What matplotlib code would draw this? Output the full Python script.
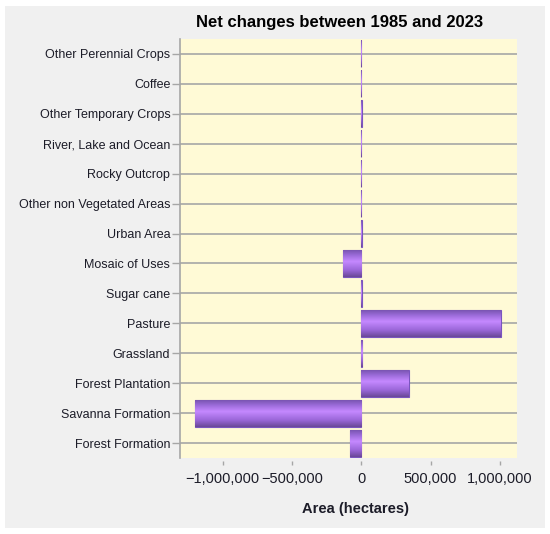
import numpy as np
import matplotlib
matplotlib.use("Agg")
import matplotlib.pyplot as plt
from matplotlib.patches import Rectangle
from matplotlib.colors import LinearSegmentedColormap
from matplotlib.ticker import FuncFormatter

plt.rcParams["font.family"] = ["Liberation Sans", "DejaVu Sans"]

# land-use classes, bottom to top as drawn
categories = [
    "Forest Formation",
    "Savanna Formation",
    "Forest Plantation",
    "Grassland",
    "Pasture",
    "Sugar cane",
    "Mosaic of Uses",
    "Urban Area",
    "Other non Vegetated Areas",
    "Rocky Outcrop",
    "River, Lake and Ocean",
    "Other Temporary Crops",
    "Coffee",
    "Other Perennial Crops",
]
# net change in hectares
net_change = [
    -84000,
    -1200000,
    344000,
    8000,
    1005000,
    3000,
    -134000,
    6000,
    500,
    500,
    1000,
    7000,
    -2000,
    1000,
]
x_ticks = [-1000000, -500000, 0, 500000, 1000000]

text_col = "#1c1c28"
grid_col = "#a6a6a6"

fig = plt.figure(figsize=(5.5, 5.34), dpi=100, facecolor="white")
fig.add_artist(Rectangle((5 / 550, 6 / 534), 540 / 550, 522 / 534,
                         transform=fig.transFigure, facecolor="#f0f0f0",
                         edgecolor="none", zorder=-1))

ax = fig.add_axes([180 / 550, 1 - 458 / 534, 337.3 / 550, 419 / 534])
ax.set_facecolor("#fffad6")

y = np.arange(len(categories))
bars = ax.barh(y, net_change, height=0.9, color="#a070e0",
               edgecolor="#7a55c0", linewidth=0.8, zorder=3)

# cylinder-like shading on each bar
shade = LinearSegmentedColormap.from_list(
    "shade", [(0, "#6a4898"), (0.25, "#9a66d8"), (0.58, "#c589ff"),
              (0.8, "#9e6ddc"), (1, "#7a55b2")])
grad = np.linspace(0, 1, 64).reshape(-1, 1)
for b in bars:
    x0, y0 = b.get_x(), b.get_y()
    x1, y1 = x0 + b.get_width(), y0 + b.get_height()
    ax.imshow(grad, cmap=shade, aspect="auto", origin="lower",
              extent=[min(x0, x1), max(x0, x1), y0, y1], zorder=3.5,
              interpolation="bilinear")

ax.set_xlim(-1307000, 1125000)
ax.set_ylim(-0.5, len(categories) - 0.5)

for yy in y:
    ax.axhline(yy, color=grid_col, lw=1.2, zorder=1)

ax.set_yticks(y)
ax.set_yticklabels(categories, fontsize=9, color=text_col)
ax.set_xticks(x_ticks)
ax.xaxis.set_major_formatter(
    FuncFormatter(lambda v, p: f"{v:,.0f}".replace("-", "\u2212")))
ax.tick_params(axis="x", colors=grid_col, length=3, width=1, pad=5,
               labelsize=10.5, labelcolor=text_col)
ax.tick_params(axis="y", colors=grid_col, length=6, width=1, pad=1,
               labelcolor=text_col)

for s in ["top", "right"]:
    ax.spines[s].set_visible(False)
ax.spines["bottom"].set_position(("outward", 2))
ax.spines["bottom"].set_visible(False)
ax.spines["left"].set_color(grid_col)
ax.spines["left"].set_linewidth(1.2)

fig.text(340 / 550, 1 - 22 / 534, "Net changes between 1985 and 2023",
         ha="center", va="center", fontsize=12, fontweight="bold",
         color="black")
fig.text(355 / 550, 1 - 509 / 534, "Area (hectares)", ha="center",
         va="center", fontsize=10.5, fontweight="bold", color=text_col)

fig.savefig("out.png", dpi=100, facecolor="white")
